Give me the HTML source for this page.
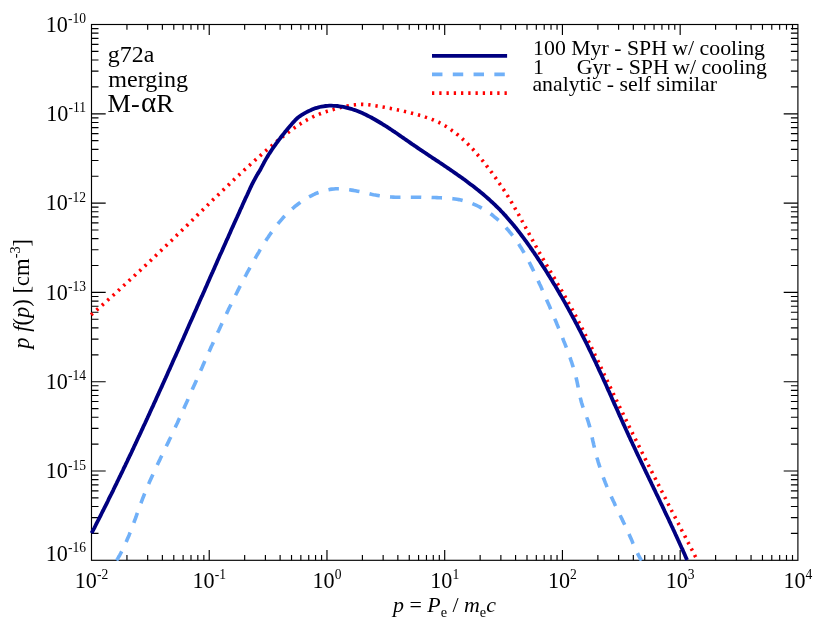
<!DOCTYPE html>
<html><head><meta charset="utf-8"><title>p f(p) spectrum</title>
<style>
html,body{margin:0;padding:0;background:#fff;}
svg{display:block;font-family:"Liberation Serif",serif;fill:#000;}
</style></head><body>
<svg width="830" height="623" viewBox="0 0 830 623">
<rect width="830" height="623" fill="#fff"/>
<defs><clipPath id="c"><rect x="89.0" y="24.0" width="709.4" height="536.9"/></clipPath></defs>
<g fill="none" stroke="#000" stroke-width="1.15">
<rect x="91.5" y="24.5" width="706.4" height="535.8"/>
<path d="M126.94,560.3 v-5.2 M126.94,24.5 v5.2 M147.67,560.3 v-5.2 M147.67,24.5 v5.2 M162.38,560.3 v-5.2 M162.38,24.5 v5.2 M173.79,560.3 v-5.2 M173.79,24.5 v5.2 M183.11,560.3 v-5.2 M183.11,24.5 v5.2 M191.00,560.3 v-5.2 M191.00,24.5 v5.2 M197.82,560.3 v-5.2 M197.82,24.5 v5.2 M203.85,560.3 v-5.2 M203.85,24.5 v5.2 M209.23,560.3 v-10.4 M209.23,24.5 v10.4 M244.67,560.3 v-5.2 M244.67,24.5 v5.2 M265.41,560.3 v-5.2 M265.41,24.5 v5.2 M280.12,560.3 v-5.2 M280.12,24.5 v5.2 M291.53,560.3 v-5.2 M291.53,24.5 v5.2 M300.85,560.3 v-5.2 M300.85,24.5 v5.2 M308.73,560.3 v-5.2 M308.73,24.5 v5.2 M315.56,560.3 v-5.2 M315.56,24.5 v5.2 M321.58,560.3 v-5.2 M321.58,24.5 v5.2 M326.97,560.3 v-10.4 M326.97,24.5 v10.4 M362.41,560.3 v-5.2 M362.41,24.5 v5.2 M383.14,560.3 v-5.2 M383.14,24.5 v5.2 M397.85,560.3 v-5.2 M397.85,24.5 v5.2 M409.26,560.3 v-5.2 M409.26,24.5 v5.2 M418.58,560.3 v-5.2 M418.58,24.5 v5.2 M426.46,560.3 v-5.2 M426.46,24.5 v5.2 M433.29,560.3 v-5.2 M433.29,24.5 v5.2 M439.31,560.3 v-5.2 M439.31,24.5 v5.2 M444.70,560.3 v-10.4 M444.70,24.5 v10.4 M480.14,560.3 v-5.2 M480.14,24.5 v5.2 M500.87,560.3 v-5.2 M500.87,24.5 v5.2 M515.58,560.3 v-5.2 M515.58,24.5 v5.2 M526.99,560.3 v-5.2 M526.99,24.5 v5.2 M536.31,560.3 v-5.2 M536.31,24.5 v5.2 M544.20,560.3 v-5.2 M544.20,24.5 v5.2 M551.02,560.3 v-5.2 M551.02,24.5 v5.2 M557.05,560.3 v-5.2 M557.05,24.5 v5.2 M562.43,560.3 v-10.4 M562.43,24.5 v10.4 M597.87,560.3 v-5.2 M597.87,24.5 v5.2 M618.61,560.3 v-5.2 M618.61,24.5 v5.2 M633.32,560.3 v-5.2 M633.32,24.5 v5.2 M644.73,560.3 v-5.2 M644.73,24.5 v5.2 M654.05,560.3 v-5.2 M654.05,24.5 v5.2 M661.93,560.3 v-5.2 M661.93,24.5 v5.2 M668.76,560.3 v-5.2 M668.76,24.5 v5.2 M674.78,560.3 v-5.2 M674.78,24.5 v5.2 M680.17,560.3 v-10.4 M680.17,24.5 v10.4 M715.61,560.3 v-5.2 M715.61,24.5 v5.2 M736.34,560.3 v-5.2 M736.34,24.5 v5.2 M751.05,560.3 v-5.2 M751.05,24.5 v5.2 M762.46,560.3 v-5.2 M762.46,24.5 v5.2 M771.78,560.3 v-5.2 M771.78,24.5 v5.2 M779.66,560.3 v-5.2 M779.66,24.5 v5.2 M786.49,560.3 v-5.2 M786.49,24.5 v5.2 M792.51,560.3 v-5.2 M792.51,24.5 v5.2 M91.5,533.42 h7 M797.9,533.42 h-7 M91.5,517.69 h7 M797.9,517.69 h-7 M91.5,506.54 h7 M797.9,506.54 h-7 M91.5,497.88 h7 M797.9,497.88 h-7 M91.5,490.81 h7 M797.9,490.81 h-7 M91.5,484.83 h7 M797.9,484.83 h-7 M91.5,479.65 h7 M797.9,479.65 h-7 M91.5,475.09 h7 M797.9,475.09 h-7 M91.5,471.00 h14.2 M797.9,471.00 h-14.2 M91.5,444.12 h7 M797.9,444.12 h-7 M91.5,428.39 h7 M797.9,428.39 h-7 M91.5,417.24 h7 M797.9,417.24 h-7 M91.5,408.58 h7 M797.9,408.58 h-7 M91.5,401.51 h7 M797.9,401.51 h-7 M91.5,395.53 h7 M797.9,395.53 h-7 M91.5,390.35 h7 M797.9,390.35 h-7 M91.5,385.79 h7 M797.9,385.79 h-7 M91.5,381.70 h14.2 M797.9,381.70 h-14.2 M91.5,354.82 h7 M797.9,354.82 h-7 M91.5,339.09 h7 M797.9,339.09 h-7 M91.5,327.94 h7 M797.9,327.94 h-7 M91.5,319.28 h7 M797.9,319.28 h-7 M91.5,312.21 h7 M797.9,312.21 h-7 M91.5,306.23 h7 M797.9,306.23 h-7 M91.5,301.05 h7 M797.9,301.05 h-7 M91.5,296.49 h7 M797.9,296.49 h-7 M91.5,292.40 h14.2 M797.9,292.40 h-14.2 M91.5,265.52 h7 M797.9,265.52 h-7 M91.5,249.79 h7 M797.9,249.79 h-7 M91.5,238.64 h7 M797.9,238.64 h-7 M91.5,229.98 h7 M797.9,229.98 h-7 M91.5,222.91 h7 M797.9,222.91 h-7 M91.5,216.93 h7 M797.9,216.93 h-7 M91.5,211.75 h7 M797.9,211.75 h-7 M91.5,207.19 h7 M797.9,207.19 h-7 M91.5,203.10 h14.2 M797.9,203.10 h-14.2 M91.5,176.22 h7 M797.9,176.22 h-7 M91.5,160.49 h7 M797.9,160.49 h-7 M91.5,149.34 h7 M797.9,149.34 h-7 M91.5,140.68 h7 M797.9,140.68 h-7 M91.5,133.61 h7 M797.9,133.61 h-7 M91.5,127.63 h7 M797.9,127.63 h-7 M91.5,122.45 h7 M797.9,122.45 h-7 M91.5,117.89 h7 M797.9,117.89 h-7 M91.5,113.80 h14.2 M797.9,113.80 h-14.2 M91.5,86.92 h7 M797.9,86.92 h-7 M91.5,71.19 h7 M797.9,71.19 h-7 M91.5,60.04 h7 M797.9,60.04 h-7 M91.5,51.38 h7 M797.9,51.38 h-7 M91.5,44.31 h7 M797.9,44.31 h-7 M91.5,38.33 h7 M797.9,38.33 h-7 M91.5,33.15 h7 M797.9,33.15 h-7 M91.5,28.59 h7 M797.9,28.59 h-7"/>
</g>
<g clip-path="url(#c)" fill="none" stroke-linejoin="round">
<path d="M91.1,314.9 L92.6,313.5 L94.1,312.2 L95.6,310.9 L97.1,309.6 L98.6,308.3 L100.1,306.9 L101.6,305.6 L103.1,304.3 L104.6,303.0 L106.1,301.6 L107.6,300.3 L109.0,299.0 L110.5,297.6 L112.0,296.3 L113.5,295.0 L115.0,293.6 L116.5,292.3 L117.9,290.9 L119.4,289.6 L120.9,288.2 L122.4,286.9 L123.8,285.5 L125.3,284.2 L126.8,282.8 L128.3,281.5 L129.7,280.1 L131.2,278.8 L132.7,277.4 L134.1,276.0 L135.6,274.7 L137.0,273.3 L138.5,272.0 L140.0,270.6 L141.4,269.2 L142.9,267.8 L144.3,266.5 L145.8,265.1 L147.2,263.7 L148.7,262.4 L150.1,261.0 L151.6,259.6 L153.0,258.2 L154.5,256.9 L155.9,255.5 L157.4,254.1 L158.8,252.7 L160.2,251.3 L161.7,249.9 L163.1,248.6 L164.6,247.2 L166.0,245.8 L167.4,244.4 L168.9,243.0 L170.3,241.6 L171.8,240.2 L173.2,238.8 L174.6,237.4 L176.1,236.0 L177.5,234.6 L178.9,233.3 L180.4,231.9 L181.8,230.5 L183.2,229.1 L184.6,227.7 L186.1,226.3 L187.5,224.9 L188.9,223.5 L190.4,222.1 L191.8,220.7 L193.2,219.3 L194.6,217.9 L196.1,216.5 L197.5,215.0 L198.9,213.6 L200.3,212.2 L201.8,210.8 L203.2,209.4 L204.6,208.0 L206.1,206.6 L207.5,205.2 L208.9,203.8 L210.4,202.4 L211.8,201.0 L213.2,199.6 L214.7,198.3 L216.1,196.9 L217.5,195.5 L219.0,194.1 L220.4,192.7 L221.8,191.3 L223.3,189.9 L224.7,188.5 L226.2,187.1 L227.6,185.8 L229.1,184.4 L230.5,183.0 L231.9,181.6 L233.4,180.2 L234.9,178.9 L236.3,177.5 L237.8,176.1 L239.2,174.8 L240.7,173.4 L242.2,172.0 L243.6,170.7 L245.1,169.3 L246.6,168.0 L248.0,166.6 L249.5,165.3 L251.0,163.9 L252.5,162.6 L254.0,161.3 L255.4,159.9 L256.9,158.6 L258.4,157.3 L259.9,156.0 L261.4,154.6 L262.9,153.3 L264.4,152.0 L265.9,150.7 L267.4,149.4 L269.0,148.1 L270.5,146.8 L272.0,145.5 L273.5,144.2 L275.1,143.0 L276.6,141.7 L278.1,140.4 L279.7,139.1 L281.2,137.9 L282.8,136.6 L284.3,135.4 L285.9,134.1 L287.5,132.9 L289.1,131.7 L290.7,130.5 L292.3,129.4 L293.9,128.2 L295.5,127.1 L297.2,125.9 L298.8,124.8 L300.5,123.8 L302.2,122.7 L303.9,121.7 L305.6,120.7 L307.3,119.7 L309.1,118.8 L310.9,117.9 L312.7,117.0 L314.5,116.1 L316.3,115.3 L318.2,114.6 L320.0,113.8 L321.9,113.1 L323.8,112.4 L325.8,111.8 L327.7,111.1 L329.6,110.5 L331.6,109.9 L333.5,109.4 L335.5,108.8 L337.4,108.3 L339.4,107.8 L341.3,107.3 L343.3,106.9 L345.3,106.5 L347.2,106.0 L349.2,105.7 L351.1,105.3 L353.1,105.0 L355.0,104.8 L357.0,104.6 L359.0,104.5 L360.9,104.4 L362.9,104.4 L364.8,104.5 L366.8,104.6 L368.8,104.8 L370.8,105.1 L372.7,105.4 L374.7,105.7 L376.7,106.0 L378.7,106.3 L380.6,106.7 L382.6,107.0 L384.6,107.3 L386.6,107.7 L388.5,108.1 L390.5,108.4 L392.5,108.8 L394.4,109.2 L396.4,109.6 L398.3,110.0 L400.3,110.4 L402.2,110.8 L404.2,111.3 L406.2,111.7 L408.1,112.2 L410.1,112.7 L412.0,113.2 L413.9,113.7 L415.9,114.2 L417.8,114.7 L419.7,115.3 L421.7,115.8 L423.6,116.4 L425.5,117.1 L427.4,117.7 L429.2,118.4 L431.1,119.1 L433.0,119.8 L434.8,120.6 L436.6,121.4 L438.4,122.2 L440.2,123.1 L441.9,124.0 L443.6,125.0 L445.3,126.0 L447.0,127.0 L448.7,128.1 L450.3,129.2 L451.9,130.4 L453.5,131.5 L455.1,132.7 L456.7,134.0 L458.2,135.2 L459.8,136.5 L461.3,137.8 L462.7,139.2 L464.2,140.5 L465.7,141.9 L467.1,143.3 L468.5,144.7 L469.9,146.2 L471.3,147.6 L472.7,149.1 L474.1,150.6 L475.4,152.1 L476.7,153.7 L478.0,155.2 L479.4,156.7 L480.6,158.3 L481.9,159.9 L483.2,161.4 L484.4,163.0 L485.7,164.6 L486.9,166.2 L488.1,167.8 L489.4,169.4 L490.6,171.0 L491.8,172.6 L492.9,174.2 L494.1,175.8 L495.3,177.4 L496.4,179.0 L497.6,180.6 L498.7,182.2 L499.8,183.9 L500.9,185.5 L502.0,187.1 L503.1,188.8 L504.2,190.4 L505.3,192.1 L506.3,193.7 L507.4,195.4 L508.4,197.1 L509.5,198.8 L510.5,200.5 L511.5,202.2 L512.5,203.9 L513.5,205.6 L514.5,207.3 L515.5,209.1 L516.5,210.8 L517.5,212.5 L518.5,214.3 L519.4,216.0 L520.4,217.8 L521.4,219.5 L522.3,221.3 L523.3,223.1 L524.2,224.8 L525.2,226.6 L526.1,228.4 L527.1,230.1 L528.0,231.9 L529.0,233.7 L529.9,235.4 L530.9,237.2 L531.8,239.0 L532.8,240.7 L533.8,242.5 L534.7,244.2 L535.7,246.0 L536.7,247.8 L537.7,249.5 L538.6,251.3 L539.6,253.0 L540.6,254.7 L541.6,256.5 L542.6,258.2 L543.6,259.9 L544.6,261.7 L545.6,263.4 L546.6,265.1 L547.7,266.9 L548.7,268.6 L549.7,270.3 L550.7,272.0 L551.7,273.7 L552.7,275.5 L553.8,277.2 L554.8,278.9 L555.8,280.6 L556.8,282.3 L557.8,284.1 L558.8,285.8 L559.8,287.5 L560.8,289.2 L561.8,291.0 L562.8,292.7 L563.8,294.4 L564.8,296.1 L565.8,297.9 L566.8,299.6 L567.8,301.3 L568.7,303.1 L569.7,304.8 L570.7,306.6 L571.6,308.3 L572.6,310.1 L573.5,311.8 L574.4,313.6 L575.4,315.4 L576.3,317.1 L577.2,318.9 L578.2,320.7 L579.1,322.5 L580.0,324.2 L580.9,326.0 L581.8,327.8 L582.7,329.6 L583.6,331.4 L584.5,333.2 L585.4,334.9 L586.2,336.7 L587.1,338.5 L588.0,340.3 L588.9,342.1 L589.8,343.9 L590.6,345.7 L591.5,347.5 L592.4,349.3 L593.2,351.1 L594.1,352.9 L594.9,354.7 L595.8,356.5 L596.7,358.4 L597.5,360.2 L598.4,362.0 L599.2,363.8 L600.1,365.6 L600.9,367.4 L601.8,369.2 L602.6,371.0 L603.5,372.8 L604.3,374.7 L605.2,376.5 L606.0,378.3 L606.9,380.1 L607.7,381.9 L608.6,383.7 L609.4,385.5 L610.3,387.3 L611.2,389.1 L612.0,390.9 L612.9,392.7 L613.7,394.6 L614.6,396.4 L615.5,398.2 L616.3,400.0 L617.2,401.8 L618.0,403.6 L618.9,405.4 L619.8,407.2 L620.7,409.0 L621.5,410.8 L622.4,412.6 L623.3,414.4 L624.1,416.2 L625.0,418.0 L625.9,419.8 L626.8,421.6 L627.7,423.4 L628.5,425.2 L629.4,427.0 L630.3,428.7 L631.2,430.5 L632.1,432.3 L632.9,434.1 L633.8,435.9 L634.7,437.7 L635.6,439.5 L636.5,441.3 L637.4,443.1 L638.3,444.9 L639.2,446.7 L640.1,448.4 L641.0,450.2 L641.8,452.0 L642.7,453.8 L643.6,455.6 L644.5,457.4 L645.4,459.2 L646.3,460.9 L647.2,462.7 L648.1,464.5 L649.0,466.3 L649.9,468.1 L650.8,469.9 L651.7,471.6 L652.6,473.4 L653.5,475.2 L654.4,477.0 L655.4,478.8 L656.3,480.6 L657.2,482.3 L658.1,484.1 L659.0,485.9 L659.9,487.7 L660.8,489.5 L661.7,491.2 L662.6,493.0 L663.5,494.8 L664.4,496.6 L665.4,498.3 L666.3,500.1 L667.2,501.9 L668.1,503.7 L669.0,505.5 L669.9,507.2 L670.8,509.0 L671.7,510.8 L672.7,512.6 L673.6,514.3 L674.5,516.1 L675.4,517.9 L676.3,519.7 L677.2,521.4 L678.2,523.2 L679.1,525.0 L680.0,526.8 L680.9,528.5 L681.8,530.3 L682.8,532.1 L683.7,533.9 L684.6,535.7 L685.5,537.4 L686.4,539.2 L687.4,541.0 L688.3,542.8 L689.2,544.5 L690.1,546.3 L691.0,548.1 L692.0,549.9 L692.9,551.6 L693.8,553.4 L694.7,555.2 L695.6,557.0 L696.6,558.7 L697.5,560.5" stroke="#ff0000" stroke-width="3.6" stroke-dasharray="2.3 4.95"/>
<path d="M116.6,560.5 L117.6,558.8 L118.6,557.0 L119.6,555.3 L120.6,553.5 L121.5,551.7 L122.4,549.9 L123.3,548.1 L124.2,546.3 L125.0,544.5 L125.8,542.7 L126.6,540.9 L127.4,539.0 L128.2,537.2 L129.0,535.4 L129.7,533.5 L130.5,531.7 L131.2,529.8 L131.9,527.9 L132.6,526.1 L133.3,524.2 L134.0,522.3 L134.7,520.4 L135.4,518.6 L136.1,516.7 L136.7,514.8 L137.4,512.9 L138.1,511.0 L138.8,509.2 L139.5,507.3 L140.1,505.4 L140.8,503.5 L141.5,501.7 L142.2,499.8 L142.9,497.9 L143.7,496.1 L144.4,494.2 L145.1,492.4 L145.9,490.5 L146.6,488.7 L147.4,486.8 L148.2,485.0 L149.0,483.1 L149.8,481.3 L150.6,479.5 L151.4,477.7 L152.2,475.9 L153.1,474.0 L153.9,472.2 L154.7,470.4 L155.6,468.6 L156.4,466.8 L157.3,465.0 L158.1,463.2 L159.0,461.4 L159.9,459.6 L160.7,457.8 L161.6,456.0 L162.5,454.2 L163.4,452.4 L164.2,450.6 L165.1,448.8 L166.0,447.0 L166.8,445.2 L167.7,443.4 L168.6,441.6 L169.4,439.8 L170.3,438.0 L171.1,436.2 L172.0,434.3 L172.8,432.5 L173.7,430.7 L174.5,428.9 L175.4,427.1 L176.2,425.3 L177.1,423.5 L177.9,421.7 L178.7,419.8 L179.6,418.0 L180.4,416.2 L181.2,414.4 L182.0,412.6 L182.9,410.7 L183.7,408.9 L184.5,407.1 L185.3,405.3 L186.1,403.5 L187.0,401.6 L187.8,399.8 L188.6,398.0 L189.4,396.2 L190.2,394.3 L191.0,392.5 L191.8,390.7 L192.6,388.8 L193.4,387.0 L194.2,385.2 L195.1,383.4 L195.9,381.5 L196.7,379.7 L197.5,377.9 L198.3,376.1 L199.1,374.2 L199.9,372.4 L200.7,370.6 L201.5,368.7 L202.3,366.9 L203.1,365.1 L203.9,363.3 L204.7,361.4 L205.5,359.6 L206.4,357.8 L207.2,356.0 L208.0,354.1 L208.8,352.3 L209.6,350.5 L210.4,348.7 L211.2,346.8 L212.1,345.0 L212.9,343.2 L213.7,341.4 L214.5,339.6 L215.3,337.7 L216.2,335.9 L217.0,334.1 L217.8,332.3 L218.7,330.5 L219.5,328.7 L220.3,326.9 L221.2,325.0 L222.0,323.2 L222.9,321.4 L223.7,319.6 L224.6,317.8 L225.4,316.0 L226.3,314.2 L227.1,312.4 L228.0,310.6 L228.8,308.8 L229.7,307.0 L230.6,305.2 L231.5,303.4 L232.3,301.6 L233.2,299.8 L234.1,298.0 L235.0,296.3 L235.9,294.5 L236.8,292.7 L237.7,290.9 L238.6,289.1 L239.5,287.3 L240.4,285.6 L241.3,283.8 L242.3,282.0 L243.2,280.3 L244.1,278.5 L245.1,276.7 L246.0,275.0 L246.9,273.2 L247.9,271.4 L248.9,269.7 L249.8,267.9 L250.8,266.2 L251.8,264.4 L252.7,262.7 L253.7,260.9 L254.7,259.2 L255.7,257.5 L256.7,255.7 L257.7,254.0 L258.7,252.3 L259.7,250.5 L260.8,248.8 L261.8,247.1 L262.9,245.4 L263.9,243.7 L265.0,242.0 L266.1,240.3 L267.2,238.6 L268.3,237.0 L269.4,235.3 L270.5,233.7 L271.7,232.1 L272.8,230.4 L274.0,228.8 L275.2,227.2 L276.4,225.7 L277.7,224.1 L278.9,222.6 L280.2,221.1 L281.5,219.6 L282.8,218.1 L284.2,216.6 L285.6,215.2 L287.0,213.7 L288.4,212.3 L289.8,211.0 L291.3,209.6 L292.8,208.3 L294.3,207.0 L295.9,205.7 L297.5,204.5 L299.1,203.3 L300.8,202.1 L302.4,200.9 L304.1,199.8 L305.9,198.7 L307.6,197.7 L309.4,196.7 L311.2,195.8 L313.0,194.9 L314.8,194.0 L316.6,193.2 L318.5,192.5 L320.4,191.8 L322.3,191.2 L324.2,190.7 L326.1,190.2 L328.0,189.8 L329.9,189.4 L331.9,189.1 L333.8,189.0 L335.8,188.8 L337.7,188.8 L339.7,188.8 L341.7,188.9 L343.6,189.0 L345.6,189.2 L347.6,189.5 L349.6,189.8 L351.5,190.1 L353.5,190.4 L355.5,190.8 L357.5,191.2 L359.5,191.6 L361.5,192.1 L363.5,192.5 L365.5,193.0 L367.5,193.4 L369.5,193.8 L371.4,194.3 L373.4,194.7 L375.4,195.0 L377.4,195.4 L379.4,195.7 L381.4,196.0 L383.4,196.3 L385.3,196.5 L387.3,196.7 L389.3,196.8 L391.3,197.0 L393.2,197.1 L395.2,197.2 L397.2,197.2 L399.2,197.3 L401.1,197.3 L403.1,197.3 L405.1,197.3 L407.1,197.3 L409.0,197.3 L411.0,197.3 L413.0,197.3 L415.0,197.3 L417.0,197.3 L418.9,197.3 L420.9,197.3 L422.9,197.4 L424.9,197.4 L426.9,197.4 L428.9,197.4 L430.9,197.4 L432.9,197.5 L434.9,197.5 L436.9,197.6 L438.9,197.7 L440.9,197.8 L442.9,197.9 L445.0,198.0 L447.0,198.1 L449.0,198.3 L451.0,198.5 L453.0,198.7 L455.0,199.0 L457.0,199.3 L458.9,199.6 L460.9,200.0 L462.8,200.5 L464.8,201.0 L466.7,201.6 L468.6,202.2 L470.4,202.8 L472.3,203.5 L474.1,204.3 L475.9,205.1 L477.7,206.0 L479.5,206.9 L481.2,207.8 L483.0,208.8 L484.7,209.8 L486.4,210.9 L488.0,212.0 L489.7,213.1 L491.3,214.3 L492.9,215.5 L494.4,216.8 L496.0,218.1 L497.5,219.4 L499.0,220.7 L500.5,222.1 L501.9,223.5 L503.3,224.9 L504.7,226.3 L506.1,227.8 L507.4,229.3 L508.8,230.8 L510.0,232.3 L511.3,233.9 L512.5,235.5 L513.8,237.0 L514.9,238.6 L516.1,240.3 L517.2,241.9 L518.4,243.5 L519.4,245.2 L520.5,246.9 L521.6,248.6 L522.6,250.3 L523.6,252.0 L524.6,253.7 L525.6,255.5 L526.6,257.2 L527.5,259.0 L528.5,260.7 L529.4,262.5 L530.3,264.3 L531.2,266.1 L532.1,267.9 L533.0,269.7 L533.8,271.5 L534.7,273.3 L535.6,275.1 L536.4,276.9 L537.2,278.7 L538.1,280.6 L538.9,282.4 L539.7,284.2 L540.6,286.0 L541.4,287.9 L542.2,289.7 L543.0,291.5 L543.8,293.3 L544.6,295.2 L545.4,297.0 L546.2,298.8 L547.0,300.7 L547.8,302.5 L548.6,304.3 L549.4,306.1 L550.2,308.0 L551.0,309.8 L551.8,311.6 L552.5,313.5 L553.3,315.3 L554.1,317.2 L554.8,319.0 L555.6,320.8 L556.4,322.7 L557.1,324.5 L557.9,326.4 L558.6,328.2 L559.4,330.0 L560.1,331.9 L560.9,333.7 L561.6,335.6 L562.4,337.4 L563.1,339.3 L563.8,341.2 L564.6,343.0 L565.3,344.9 L566.0,346.7 L566.7,348.6 L567.4,350.5 L568.1,352.3 L568.8,354.2 L569.5,356.1 L570.2,358.0 L570.8,359.9 L571.5,361.8 L572.1,363.7 L572.7,365.6 L573.3,367.5 L573.9,369.4 L574.4,371.3 L575.0,373.2 L575.5,375.1 L576.0,377.1 L576.4,379.0 L576.9,381.0 L577.3,382.9 L577.7,384.9 L578.1,386.9 L578.4,388.8 L578.8,390.8 L579.2,392.8 L579.6,394.7 L580.0,396.7 L580.5,398.6 L581.0,400.5 L581.5,402.5 L582.1,404.4 L582.7,406.3 L583.4,408.2 L584.1,410.0 L584.8,411.9 L585.5,413.8 L586.2,415.6 L586.8,417.5 L587.5,419.4 L588.1,421.3 L588.7,423.2 L589.2,425.1 L589.8,427.1 L590.2,429.0 L590.7,431.0 L591.1,432.9 L591.6,434.9 L592.0,436.8 L592.4,438.8 L592.8,440.7 L593.3,442.7 L593.7,444.6 L594.2,446.6 L594.6,448.5 L595.1,450.5 L595.6,452.4 L596.1,454.3 L596.6,456.3 L597.1,458.2 L597.7,460.1 L598.2,462.0 L598.8,463.9 L599.4,465.8 L600.0,467.7 L600.6,469.6 L601.2,471.5 L601.9,473.4 L602.5,475.3 L603.2,477.2 L603.9,479.0 L604.6,480.9 L605.3,482.7 L606.1,484.6 L606.8,486.4 L607.6,488.3 L608.4,490.1 L609.2,491.9 L610.0,493.8 L610.8,495.6 L611.6,497.4 L612.5,499.2 L613.3,501.0 L614.2,502.8 L615.0,504.7 L615.9,506.5 L616.8,508.3 L617.6,510.1 L618.5,511.9 L619.4,513.7 L620.2,515.5 L621.1,517.3 L622.0,519.1 L622.8,520.9 L623.7,522.7 L624.6,524.5 L625.4,526.3 L626.3,528.1 L627.1,529.9 L627.9,531.7 L628.8,533.6 L629.6,535.4 L630.4,537.2 L631.2,539.0 L632.0,540.9 L632.7,542.7 L633.5,544.5 L634.3,546.4 L635.1,548.2 L635.9,550.0 L636.8,551.8 L637.7,553.6 L638.6,555.4 L639.5,557.1 L640.5,558.9 L641.6,560.6" stroke="#70b0f8" stroke-width="3.6" stroke-dasharray="10.45 10.33"/>
<path d="M91.6,533.1 L92.5,531.3 L93.4,529.6 L94.4,527.8 L95.3,526.0 L96.2,524.2 L97.1,522.4 L98.0,520.7 L98.9,518.9 L99.8,517.1 L100.7,515.3 L101.6,513.5 L102.5,511.7 L103.4,510.0 L104.3,508.2 L105.2,506.4 L106.1,504.6 L107.0,502.8 L107.9,501.0 L108.7,499.2 L109.6,497.4 L110.5,495.6 L111.4,493.9 L112.3,492.1 L113.2,490.3 L114.0,488.5 L114.9,486.7 L115.8,484.9 L116.7,483.1 L117.5,481.3 L118.4,479.5 L119.3,477.7 L120.2,475.9 L121.0,474.1 L121.9,472.3 L122.8,470.5 L123.6,468.7 L124.5,466.9 L125.4,465.1 L126.2,463.3 L127.1,461.5 L127.9,459.7 L128.8,457.9 L129.6,456.1 L130.5,454.3 L131.4,452.5 L132.2,450.7 L133.1,448.9 L133.9,447.0 L134.8,445.2 L135.6,443.4 L136.5,441.6 L137.3,439.8 L138.1,438.0 L139.0,436.2 L139.8,434.4 L140.7,432.6 L141.5,430.8 L142.4,428.9 L143.2,427.1 L144.0,425.3 L144.9,423.5 L145.7,421.7 L146.5,419.9 L147.4,418.1 L148.2,416.3 L149.1,414.4 L149.9,412.6 L150.7,410.8 L151.5,409.0 L152.4,407.2 L153.2,405.4 L154.0,403.5 L154.9,401.7 L155.7,399.9 L156.5,398.1 L157.3,396.3 L158.2,394.4 L159.0,392.6 L159.8,390.8 L160.6,389.0 L161.5,387.2 L162.3,385.3 L163.1,383.5 L163.9,381.7 L164.7,379.9 L165.6,378.0 L166.4,376.2 L167.2,374.4 L168.0,372.6 L168.8,370.8 L169.7,368.9 L170.5,367.1 L171.3,365.3 L172.1,363.5 L172.9,361.6 L173.7,359.8 L174.5,358.0 L175.4,356.2 L176.2,354.3 L177.0,352.5 L177.8,350.7 L178.6,348.9 L179.4,347.0 L180.2,345.2 L181.0,343.4 L181.9,341.5 L182.7,339.7 L183.5,337.9 L184.3,336.1 L185.1,334.2 L185.9,332.4 L186.7,330.6 L187.5,328.8 L188.3,326.9 L189.1,325.1 L189.9,323.3 L190.7,321.4 L191.6,319.6 L192.4,317.8 L193.2,316.0 L194.0,314.1 L194.8,312.3 L195.6,310.5 L196.4,308.7 L197.2,306.8 L198.0,305.0 L198.8,303.2 L199.6,301.3 L200.4,299.5 L201.2,297.7 L202.1,295.9 L202.9,294.0 L203.7,292.2 L204.5,290.4 L205.3,288.5 L206.1,286.7 L206.9,284.9 L207.7,283.1 L208.5,281.2 L209.3,279.4 L210.1,277.6 L210.9,275.7 L211.7,273.9 L212.6,272.1 L213.4,270.3 L214.2,268.4 L215.0,266.6 L215.8,264.8 L216.6,262.9 L217.4,261.1 L218.2,259.3 L219.0,257.5 L219.8,255.6 L220.6,253.8 L221.5,252.0 L222.3,250.2 L223.1,248.3 L223.9,246.5 L224.7,244.7 L225.5,242.9 L226.3,241.0 L227.2,239.2 L228.0,237.4 L228.8,235.6 L229.6,233.7 L230.4,231.9 L231.2,230.1 L232.0,228.3 L232.9,226.4 L233.7,224.6 L234.5,222.8 L235.3,221.0 L236.1,219.2 L237.0,217.3 L237.8,215.5 L238.6,213.7 L239.4,211.9 L240.2,210.0 L241.1,208.2 L241.9,206.4 L242.7,204.6 L243.5,202.8 L244.4,200.9 L245.2,199.1 L246.0,197.3 L246.9,195.5 L247.7,193.7 L248.5,191.9 L249.4,190.0 L250.2,188.2 L251.1,186.4 L251.9,184.6 L252.8,182.8 L253.7,181.1 L254.7,179.3 L255.6,177.6 L256.6,175.8 L257.6,174.1 L258.7,172.4 L259.7,170.7 L260.7,169.0 L261.6,167.2 L262.6,165.4 L263.5,163.7 L264.4,161.9 L265.4,160.1 L266.4,158.4 L267.4,156.7 L268.4,155.0 L269.5,153.3 L270.6,151.7 L271.7,150.0 L272.8,148.3 L274.0,146.7 L275.1,145.1 L276.3,143.4 L277.5,141.8 L278.6,140.2 L279.9,138.6 L281.1,137.0 L282.3,135.5 L283.6,133.9 L284.8,132.3 L286.1,130.8 L287.4,129.2 L288.6,127.7 L289.9,126.2 L291.2,124.7 L292.5,123.1 L293.9,121.7 L295.2,120.2 L296.6,118.8 L298.1,117.5 L299.7,116.3 L301.4,115.2 L303.1,114.2 L304.8,113.2 L306.6,112.2 L308.3,111.3 L310.2,110.4 L312.0,109.6 L313.9,108.8 L315.7,108.1 L317.6,107.6 L319.6,107.0 L321.5,106.6 L323.5,106.3 L325.5,106.0 L327.4,105.8 L329.4,105.7 L331.4,105.7 L333.4,105.8 L335.4,105.9 L337.4,106.0 L339.4,106.3 L341.4,106.6 L343.4,106.9 L345.3,107.3 L347.2,107.8 L349.2,108.3 L351.1,108.8 L353.0,109.5 L354.9,110.1 L356.7,110.8 L358.6,111.5 L360.4,112.3 L362.3,113.1 L364.1,113.9 L365.9,114.8 L367.7,115.7 L369.5,116.6 L371.3,117.5 L373.0,118.5 L374.8,119.5 L376.5,120.5 L378.2,121.5 L379.9,122.5 L381.6,123.5 L383.3,124.6 L385.0,125.7 L386.7,126.7 L388.4,127.8 L390.0,128.9 L391.7,130.0 L393.3,131.1 L395.0,132.2 L396.6,133.3 L398.3,134.5 L399.9,135.6 L401.5,136.7 L403.2,137.9 L404.8,139.0 L406.4,140.1 L408.1,141.3 L409.7,142.4 L411.4,143.6 L413.0,144.7 L414.7,145.8 L416.3,146.9 L418.0,148.1 L419.6,149.2 L421.3,150.3 L422.9,151.4 L424.6,152.5 L426.3,153.6 L427.9,154.7 L429.6,155.9 L431.3,157.0 L432.9,158.1 L434.6,159.2 L436.3,160.3 L438.0,161.4 L439.6,162.5 L441.3,163.6 L443.0,164.8 L444.6,165.9 L446.3,167.0 L447.9,168.1 L449.6,169.3 L451.2,170.4 L452.9,171.5 L454.5,172.7 L456.2,173.8 L457.8,175.0 L459.4,176.1 L461.1,177.3 L462.7,178.4 L464.3,179.6 L465.9,180.8 L467.5,182.0 L469.1,183.2 L470.7,184.4 L472.3,185.6 L473.9,186.8 L475.4,188.0 L477.0,189.3 L478.6,190.5 L480.1,191.8 L481.6,193.0 L483.2,194.3 L484.7,195.6 L486.2,196.9 L487.7,198.2 L489.2,199.5 L490.6,200.9 L492.1,202.2 L493.6,203.6 L495.0,204.9 L496.4,206.3 L497.8,207.7 L499.3,209.1 L500.6,210.6 L502.0,212.0 L503.4,213.4 L504.7,214.9 L506.1,216.4 L507.4,217.9 L508.7,219.4 L510.0,220.9 L511.3,222.4 L512.6,224.0 L513.9,225.5 L515.1,227.1 L516.4,228.6 L517.6,230.2 L518.9,231.8 L520.1,233.4 L521.3,235.0 L522.5,236.6 L523.7,238.2 L524.9,239.8 L526.1,241.4 L527.3,243.1 L528.4,244.7 L529.6,246.3 L530.7,248.0 L531.9,249.6 L533.0,251.3 L534.2,252.9 L535.3,254.6 L536.4,256.2 L537.5,257.9 L538.6,259.6 L539.7,261.2 L540.8,262.9 L541.9,264.6 L543.0,266.3 L544.1,267.9 L545.2,269.6 L546.2,271.3 L547.3,273.0 L548.3,274.7 L549.4,276.4 L550.4,278.1 L551.5,279.8 L552.5,281.5 L553.5,283.2 L554.6,284.9 L555.6,286.6 L556.6,288.3 L557.6,290.0 L558.6,291.7 L559.6,293.5 L560.6,295.2 L561.6,296.9 L562.6,298.6 L563.6,300.4 L564.6,302.1 L565.6,303.9 L566.5,305.6 L567.5,307.3 L568.5,309.1 L569.4,310.8 L570.4,312.6 L571.3,314.3 L572.3,316.1 L573.2,317.9 L574.2,319.6 L575.1,321.4 L576.0,323.1 L577.0,324.9 L577.9,326.7 L578.8,328.5 L579.7,330.2 L580.7,332.0 L581.6,333.8 L582.5,335.6 L583.4,337.4 L584.3,339.1 L585.2,340.9 L586.1,342.7 L587.0,344.5 L587.9,346.3 L588.7,348.1 L589.6,349.9 L590.5,351.7 L591.4,353.5 L592.2,355.3 L593.1,357.1 L594.0,358.9 L594.8,360.7 L595.7,362.5 L596.5,364.3 L597.4,366.1 L598.2,367.9 L599.0,369.8 L599.9,371.6 L600.7,373.4 L601.6,375.2 L602.4,377.0 L603.2,378.8 L604.0,380.7 L604.9,382.5 L605.7,384.3 L606.5,386.1 L607.3,387.9 L608.1,389.8 L609.0,391.6 L609.8,393.4 L610.6,395.2 L611.4,397.1 L612.2,398.9 L613.0,400.7 L613.8,402.5 L614.6,404.4 L615.5,406.2 L616.3,408.0 L617.1,409.8 L617.9,411.6 L618.7,413.5 L619.5,415.3 L620.4,417.1 L621.2,418.9 L622.0,420.7 L622.8,422.6 L623.6,424.4 L624.5,426.2 L625.3,428.0 L626.1,429.8 L627.0,431.7 L627.8,433.5 L628.6,435.3 L629.5,437.1 L630.3,438.9 L631.1,440.7 L632.0,442.5 L632.8,444.3 L633.7,446.1 L634.5,447.9 L635.4,449.8 L636.2,451.6 L637.1,453.4 L637.9,455.2 L638.8,457.0 L639.7,458.8 L640.5,460.6 L641.4,462.4 L642.2,464.2 L643.1,466.0 L644.0,467.8 L644.8,469.6 L645.7,471.4 L646.5,473.2 L647.4,475.0 L648.3,476.8 L649.1,478.6 L650.0,480.4 L650.9,482.2 L651.7,484.0 L652.6,485.8 L653.4,487.6 L654.3,489.4 L655.2,491.2 L656.0,493.0 L656.9,494.8 L657.8,496.6 L658.6,498.4 L659.5,500.2 L660.3,502.0 L661.2,503.8 L662.1,505.6 L662.9,507.4 L663.8,509.3 L664.6,511.1 L665.5,512.9 L666.3,514.7 L667.2,516.5 L668.1,518.3 L668.9,520.1 L669.7,521.9 L670.6,523.7 L671.4,525.5 L672.3,527.3 L673.1,529.1 L674.0,531.0 L674.8,532.8 L675.6,534.6 L676.5,536.4 L677.3,538.2 L678.1,540.0 L679.0,541.9 L679.8,543.7 L680.6,545.5 L681.4,547.3 L682.3,549.1 L683.1,551.0 L683.9,552.8 L684.7,554.6 L685.5,556.4 L686.3,558.3 L687.1,560.1" stroke="#000080" stroke-width="3.8"/>
</g>
<g font-size="23.2">
<text transform="translate(91.50,588) scale(0.955,1)" text-anchor="middle">10<tspan font-size="14.2" dy="-8.7">-2</tspan></text>
<text transform="translate(209.23,588) scale(0.955,1)" text-anchor="middle">10<tspan font-size="14.2" dy="-8.7">-1</tspan></text>
<text transform="translate(326.97,588) scale(0.955,1)" text-anchor="middle">10<tspan font-size="14.2" dy="-8.7">0</tspan></text>
<text transform="translate(444.70,588) scale(0.955,1)" text-anchor="middle">10<tspan font-size="14.2" dy="-8.7">1</tspan></text>
<text transform="translate(562.43,588) scale(0.955,1)" text-anchor="middle">10<tspan font-size="14.2" dy="-8.7">2</tspan></text>
<text transform="translate(680.17,588) scale(0.955,1)" text-anchor="middle">10<tspan font-size="14.2" dy="-8.7">3</tspan></text>
<text transform="translate(797.90,588) scale(0.955,1)" text-anchor="middle">10<tspan font-size="14.2" dy="-8.7">4</tspan></text>
<text transform="translate(86.0,560.60) scale(0.955,1)" text-anchor="end">10<tspan font-size="14.2" dy="-8.7">-16</tspan></text>
<text transform="translate(86.0,478.20) scale(0.955,1)" text-anchor="end">10<tspan font-size="14.2" dy="-8.7">-15</tspan></text>
<text transform="translate(86.0,388.90) scale(0.955,1)" text-anchor="end">10<tspan font-size="14.2" dy="-8.7">-14</tspan></text>
<text transform="translate(86.0,299.60) scale(0.955,1)" text-anchor="end">10<tspan font-size="14.2" dy="-8.7">-13</tspan></text>
<text transform="translate(86.0,210.30) scale(0.955,1)" text-anchor="end">10<tspan font-size="14.2" dy="-8.7">-12</tspan></text>
<text transform="translate(86.0,121.00) scale(0.955,1)" text-anchor="end">10<tspan font-size="14.2" dy="-8.7">-11</tspan></text>
<text transform="translate(86.0,31.70) scale(0.955,1)" text-anchor="end">10<tspan font-size="14.2" dy="-8.7">-10</tspan></text>
</g>
<text x="107.8" y="61.7" font-size="23.9">g72a</text>
<text x="108.3" y="86.5" font-size="24.1">merging</text>
<text x="107.6" y="111.6" font-size="26.2">M-<tspan font-size="29" dx="1.5">α</tspan>R</text>
<g fill="none">
<path d="M432,55.85 H507.1" stroke="#000080" stroke-width="3.8"/>
<path d="M432,74.4 H507.1" stroke="#70b0f8" stroke-width="3.6" stroke-dasharray="10.45 10.33"/>
<path d="M432,93.1 H507.1" stroke="#ff0000" stroke-width="3.6" stroke-dasharray="2.3 4.95"/>
</g>
<g font-size="21.8" style="white-space:pre">
<text x="533.1" y="55.4" xml:space="preserve">100 Myr - SPH w/ cooling</text>
<text x="533.1" y="73.8" xml:space="preserve">1      Gyr - SPH w/ cooling</text>
<text x="532.4" y="91.4" xml:space="preserve">analytic - self similar</text>
</g>
<text x="393" y="611.6" font-size="21.9" xml:space="preserve"><tspan font-style="italic">p</tspan> = <tspan font-style="italic">P</tspan><tspan font-size="14.3" dy="5.2">e</tspan><tspan dy="-5.2"> / </tspan><tspan font-style="italic">m</tspan><tspan font-size="14.3" dy="5.2">e</tspan><tspan dy="-5.2" font-style="italic">c</tspan></text>
<text transform="translate(28.7,348.7) rotate(-90)" font-size="22.6" xml:space="preserve"><tspan font-style="italic">p f</tspan>(<tspan font-style="italic">p</tspan>) [cm<tspan font-size="14.3" dy="-9.1">-3</tspan><tspan dy="9.1">]</tspan></text>
</svg>
</body></html>
